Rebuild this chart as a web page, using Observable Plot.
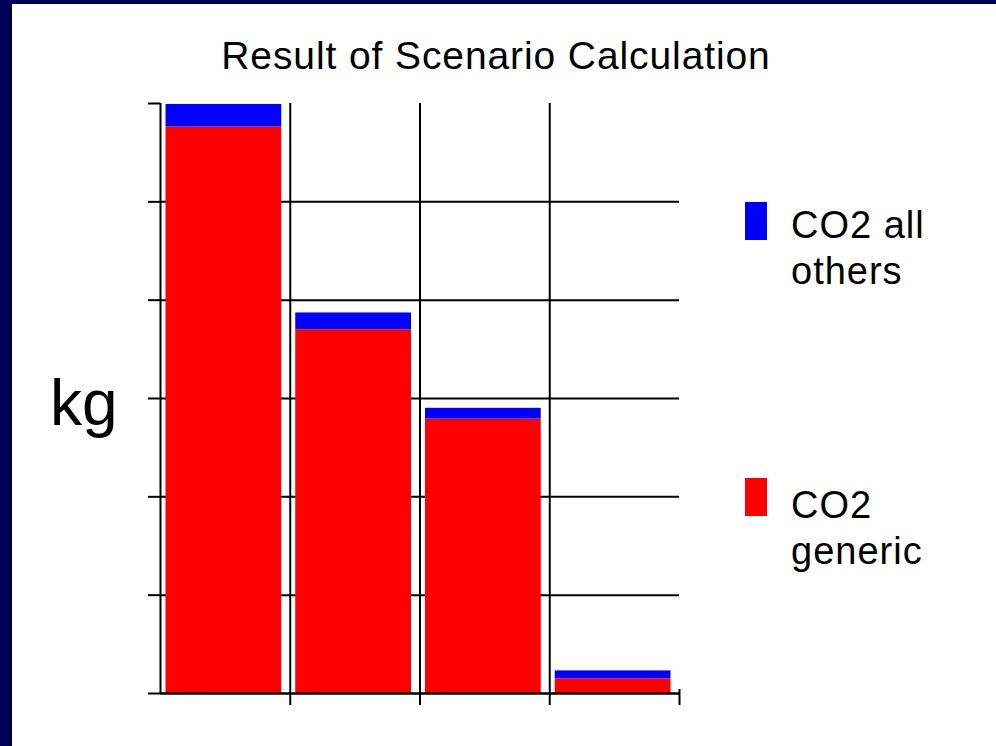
<!DOCTYPE html>
<html>
<head>
<meta charset="utf-8">
<script src="https://cdn.jsdelivr.net/npm/d3@7"></script>
<script src="https://cdn.jsdelivr.net/npm/@observablehq/plot@0.6"></script>
<style>
  html, body { margin: 0; padding: 0; background: #fff; }
  #page { position: relative; width: 996px; height: 746px; background: #fff; overflow: hidden; font-family: "Liberation Sans", Arial, sans-serif; color: #000; }
  #chart { position: absolute; left: 0; top: 0; }
  .abs { position: absolute; white-space: nowrap; }
  #title { left: 0; width: 992px; top: 36px; text-align: center; font-size: 39px; line-height: 40px; letter-spacing: 0.9px; }
  #kg { left: 50px; top: 371px; font-size: 64px; line-height: 64px; }
  .legtext { font-size: 38px; line-height: 46px; letter-spacing: 1px; }
  .swatch { position: absolute; width: 22px; height: 38px; }
  #navyL { left: 0; top: 0; width: 10px; height: 746px; background: #000058; }
  #blackL { left: 10px; top: 0; width: 2px; height: 746px; background: #000010; }
  #navyT { left: 0; top: 0; width: 996px; height: 4px; background: #000058; }
</style>
</head>
<body>
<div id="page">
  <div id="chart"></div>
  <div id="title" class="abs"></div>
  <div id="kg" class="abs"></div>
  <div id="legend"></div>
  <div id="navyL" class="abs"></div>
  <div id="blackL" class="abs"></div>
  <div id="navyT" class="abs"></div>
</div>
<script>
// ---- data ----
const titleText = "Result of Scenario Calculation";
const yLabel = "kg";
const scenarios = ["1", "2", "3", "4"];
const co2Generic = [5.76, 3.70, 2.79, 0.15];
const co2AllOthers = [0.23, 0.17, 0.11, 0.08];
const yTicks = [0, 1, 2, 3, 4, 5, 6];
const gridValues = [1, 2, 3, 4, 5];
const seriesNames = ["CO2 all others", "CO2 generic"];
const seriesColors = ["#0000ff", "#ff0000"];
const legendLines = [["CO2 all", "others"], ["CO2", "generic"]];

// ---- table for the library ----
const rows = scenarios.flatMap((s, i) => [
  {i, scenario: s, series: "CO2 generic", y1: 0, y2: co2Generic[i]},
  {i, scenario: s, series: "CO2 all others", y1: co2Generic[i], y2: co2Generic[i] + co2AllOthers[i]}
]);
const n = scenarios.length;
const boundaries = d3.range(1, n);

const chart = Plot.plot({
  width: 996,
  height: 746,
  marginLeft: 160,
  marginRight: 317,
  marginTop: 103,
  marginBottom: 53,
  style: {background: "transparent"},
  x: {domain: [0, n], axis: null},
  y: {domain: [0, 6], axis: null},
  color: {domain: seriesNames, range: seriesColors},
  marks: [
    Plot.ruleY(gridValues, {x1: 0, x2: n, stroke: "black", strokeWidth: 2}),
    Plot.ruleX(boundaries, {y1: 6, y2: 0, insetBottom: -12, stroke: "black", strokeWidth: 2}),
    Plot.rectY(rows, {x1: d => d.i, x2: d => d.i + 1, y1: "y1", y2: "y2", fill: "series", insetLeft: 5.5, insetRight: 8.5}),
    Plot.ruleX([0], {y1: 6, y2: 0, stroke: "black", strokeWidth: 2}),
    Plot.ruleY([0], {x1: 0, x2: n, stroke: "black", strokeWidth: 2.5}),
    Plot.ruleX([n], {y1: 0, y2: 0, insetTop: -4, insetBottom: -12, stroke: "black", strokeWidth: 2}),
    Plot.axisY({ticks: yTicks, tickSize: 12, tickFormat: () => "", label: null, stroke: "black", strokeWidth: 2})
  ]
});
document.getElementById("chart").appendChild(chart);

document.getElementById("title").textContent = titleText;
document.getElementById("kg").textContent = yLabel;

// legend (HTML)
const legend = document.getElementById("legend");
const legendTops = [202, 482];
const swatchTops = [202, 478];
const legendOrder = ["CO2 all others", "CO2 generic"];
legendOrder.forEach((name, k) => {
  const sw = document.createElement("div");
  sw.className = "swatch";
  sw.style.left = "745px";
  sw.style.top = swatchTops[k] + "px";
  sw.style.background = seriesColors[seriesNames.indexOf(name)];
  legend.appendChild(sw);
  const t = document.createElement("div");
  t.className = "abs legtext";
  t.style.left = "791px";
  t.style.top = legendTops[k] + "px";
  t.innerHTML = legendLines[k].join("<br>");
  legend.appendChild(t);
});
</script>
</body>
</html>
